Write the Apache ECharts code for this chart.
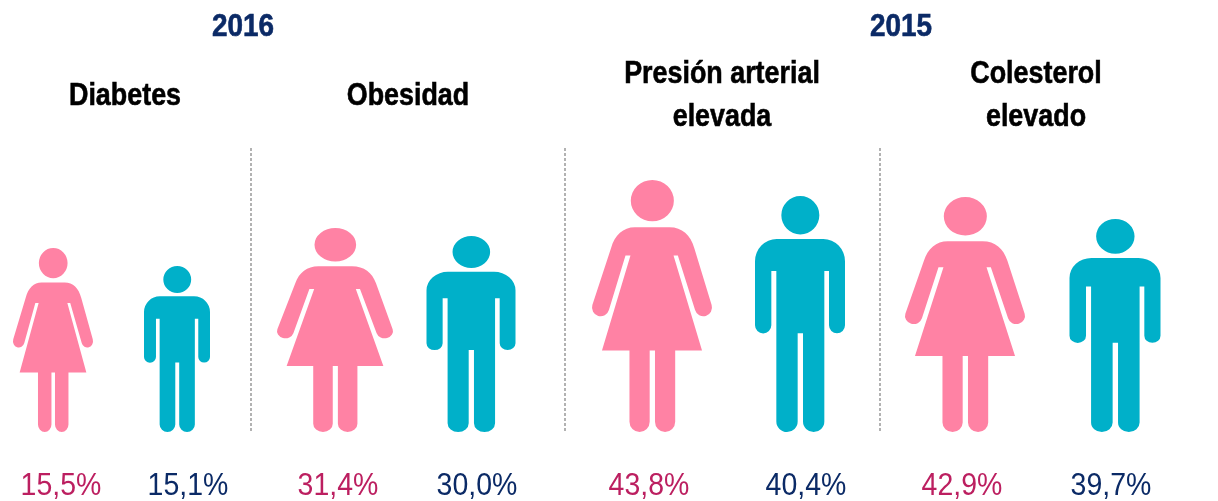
<!DOCTYPE html>
<html>
<head>
<meta charset="utf-8">
<style>
  html, body { margin: 0; padding: 0; background: #fff; }
  #chart { width: 1218px; height: 501px; }
</style>
<script src="https://cdn.jsdelivr.net/npm/echarts@6/dist/echarts.min.js"></script>
</head>
<body>
<div id="chart"></div>
<script>
// datos
const years = ['2016', '2015'];
const panels = ['Diabetes', 'Obesidad', 'Presión arterial\nelevada', 'Colesterol\nelevado'];
const sexes = ['Mujeres', 'Hombres'];
const womenPct = [15.5, 31.4, 43.8, 42.9];
const menPct = [15.1, 30.0, 40.4, 39.7];
// alto de cada figura, tal como se ve en la imagen
const womenHeight = [184, 204, 252, 235];
const menHeight = [166, 196, 236, 213];

// layout
const FONT = '"Liberation Sans", sans-serif';
const PINK = '#ff82a4', TEAL = '#00b0c9', WINE = '#bc1f60', NAVY = '#0b2a66';
const BASE_Y = 432;
const gridBoxes = [[-9, 248], [267, 272], [578, 296], [890, 300]];
const womenWidth = [80, 116, 120, 120];
const menWidth = [66, 89, 90, 91];
const titleX = [125, 408, 722, 1036];
const yearX = [243, 901];
const dividerX = [251, 565, 880];
const womenLabelX = [61, 338, 649, 962];
const menLabelX = [188, 477, 806, 1111];

const WOMAN = 'path://M138,92A65,62 0 1,1 268,92A65,62 0 1,1 138,92Z' +
  'M150,172L255,172C293,172 318,195 330,235L382,405A26,26 0 0,1 332,420L280,256L267,256L353,541L272,541L272,755' +
  'A30.5,30.5 0 0,1 211,755L211,541L195,541L195,755A30.5,30.5 0 0,1 134,755L134,541L51,541L137,256L122,256' +
  'L72,420A26,26 0 0,1 22,405L78,235C90,195 115,172 150,172Z';
const MAN = 'path://M589,136A57,58 0 1,1 703,136A57,58 0 1,1 589,136Z' +
  'M575,208L715,208A65,67 0 0,1 780,275L780,468A24,24 0 0,1 732,468L732,304L718,304L718,758A32,32 0 0,1 654,758' +
  'L654,492L638,492L638,758A32,32 0 0,1 574,758L574,304L559,304L559,468A24.5,24.5 0 0,1 510,468' +
  'L510,275A65,67 0 0,1 575,208Z';

function pct(v) {
  return v.toFixed(1).replace('.', ',') + '%';
}

// texto real, estrechado porque no hay fuente condensada instalada
function label(text, x, y, size, weight, color, scaleX) {
  return {
    type: 'text',
    silent: true,
    x: x,
    y: y,
    scaleX: scaleX,
    style: {
      text: text,
      fill: color,
      stroke: weight === 'bold' ? color : null,
      lineWidth: weight === 'bold' ? 0.6 : 0,
      font: weight + ' ' + size + 'px ' + FONT,
      lineHeight: 43,
      textAlign: 'center',
      textVerticalAlign: 'middle'
    }
  };
}

const grid = [], xAxis = [], yAxis = [], series = [], graphic = [];

panels.forEach((name, i) => {
  grid.push({ left: gridBoxes[i][0], width: gridBoxes[i][1], top: 0, height: BASE_Y, outerBoundsMode: 'none' });
  xAxis.push({
    gridIndex: i,
    type: 'category',
    data: sexes,
    axisLine: { show: false },
    axisTick: { show: false },
    axisLabel: { show: false }
  });
  yAxis.push({ gridIndex: i, type: 'value', min: 0, max: BASE_Y, show: false });
  series.push({
    type: 'pictorialBar',
    xAxisIndex: i,
    yAxisIndex: i,
    barWidth: 130,
    symbolPosition: 'start',
    animation: false,
    silent: true,
    data: [
      { value: womenHeight[i], symbol: WOMAN, symbolSize: [womenWidth[i], '100%'], itemStyle: { color: PINK } },
      { value: menHeight[i], symbol: MAN, symbolSize: [menWidth[i], '100%'], itemStyle: { color: TEAL } }
    ]
  });
  graphic.push(label(name, titleX[i], 96, 32, 'bold', '#000', 0.84));
  graphic.push(label(pct(womenPct[i]), womenLabelX[i], 486, 32, 'normal', WINE, 0.89));
  graphic.push(label(pct(menPct[i]), menLabelX[i], 486, 32, 'normal', NAVY, 0.89));
});

years.forEach((y, i) => {
  graphic.push(label(y, yearX[i], 27, 31, 'bold', NAVY, 0.9));
});

dividerX.forEach(x => {
  graphic.push({
    type: 'line',
    silent: true,
    shape: { x1: x, y1: 148, x2: x, y2: BASE_Y },
    style: { stroke: '#999', lineWidth: 1.5, lineDash: [3, 2] }
  });
});

const chart = echarts.init(document.getElementById('chart'));
chart.setOption({
  backgroundColor: '#fff',
  animation: false,
  grid: grid,
  xAxis: xAxis,
  yAxis: yAxis,
  series: series,
  graphic: graphic
});
</script>
</body>
</html>
